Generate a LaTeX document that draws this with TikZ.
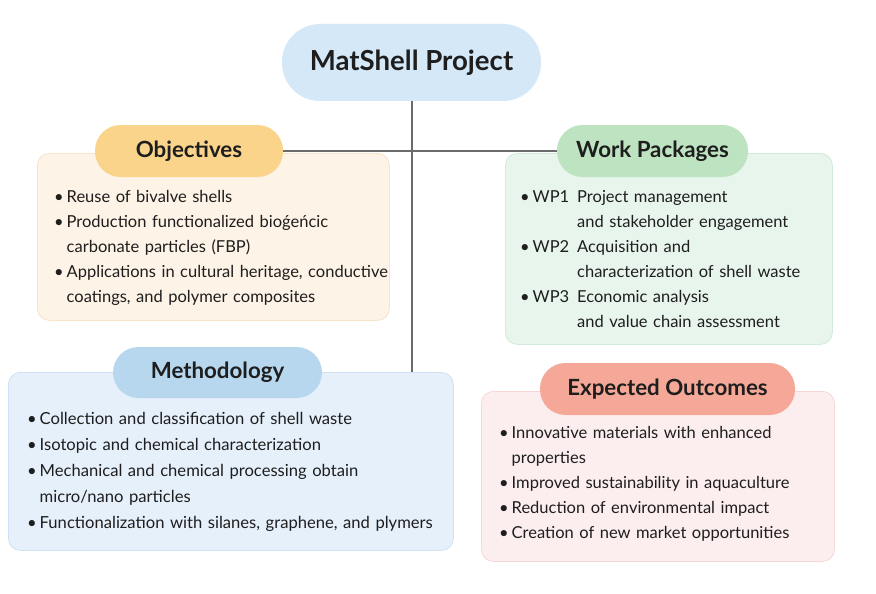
\documentclass[tikz,border=0pt]{standalone}
\usepackage{fontspec}
\setmainfont{Lato}
\usepackage{tikz}
\usetikzlibrary{positioning}

\definecolor{ink}{HTML}{1E1E1E}
\definecolor{linkgray}{HTML}{6B6B6B}
\definecolor{titlefill}{HTML}{D5E8F8}
\definecolor{objpill}{HTML}{FAD48B}
\definecolor{objfill}{HTML}{FDF3E6}
\definecolor{objline}{HTML}{F7E4CB}
\definecolor{wppill}{HTML}{BEE3C0}
\definecolor{wpfill}{HTML}{E8F5EC}
\definecolor{wpline}{HTML}{D2EADA}
\definecolor{methpill}{HTML}{B7D7EF}
\definecolor{methfill}{HTML}{E5F0FA}
\definecolor{methline}{HTML}{CFE2F3}
\definecolor{outpill}{HTML}{F6A898}
\definecolor{outfill}{HTML}{FCEEEE}
\definecolor{outline}{HTML}{F5D8D5}

\newcommand{\bul}[1]{\par\hangindent=12.5pt\hangafter=1\noindent\makebox[12.5pt][l]{\textbullet}#1}
\newcommand{\wpbul}[2]{\par\hangindent=57pt\hangafter=1\noindent\makebox[12.5pt][l]{\textbullet}\makebox[44.5pt][l]{#1}#2}

\tikzset{
  pill/.style={rounded corners=25.5pt, minimum height=52pt, inner sep=0pt, text=ink,
    font=\bfseries\fontsize{22.3}{26}\selectfont},
  panel/.style={rounded corners=12pt, anchor=north west, inner sep=0pt, line width=0.8pt},
  list/.style={anchor=north west, align=left, inner sep=0pt, text=ink, text width=#1,
    font=\fontsize{16.5}{25}\selectfont},
  link/.style={draw=linkgray, line width=2pt},
}

\begin{document}
\begin{tikzpicture}[x=1pt, y=-1pt]
\useasboundingbox[fill=white] (0,0) rectangle (876,594);

% panels
\node[panel, draw=objline, fill=objfill, minimum width=352pt, minimum height=167pt] (objbox) at (37,153) {};
\node[panel, draw=wpline, fill=wpfill, minimum width=327pt, minimum height=191pt] (wpbox) at (505,153) {};
\node[panel, draw=methline, fill=methfill, minimum width=445pt, minimum height=178pt] (methbox) at (8,372) {};
\node[panel, draw=outline, fill=outfill, minimum width=353pt, minimum height=170pt] (outbox) at (481,391) {};

% title and headings
\node[pill, fill=titlefill, minimum width=259pt, minimum height=77pt, rounded corners=38pt,
  font=\bfseries\fontsize{27.6}{32}\selectfont] (title) at (411.5,62.5) {MatShell Project};
\node[pill, fill=objpill, minimum width=188pt] (obj) at (189,151) {Objectives};
\node[pill, fill=wppill, minimum width=191pt] (wp) at (652.5,151) {Work Packages};
\node[pill, fill=methpill, minimum width=209pt, minimum height=51pt] (meth) at (217.5,372.5) {Methodology};
\node[pill, fill=outpill, minimum width=255pt] (out) at (667.5,389) {Expected Outcomes};

% connectors
\draw[link] (title.south) -- (title.south |- methbox.north);
\draw[link] (obj.east) -- (wp.west);

% lists
\node[list=340pt] (objlist) at (54,177.5) {%
  \bul{Reuse of bivalve shells}
  \bul{Production functionalized bioǵeńcic\newline carbonate particles (FBP)}
  \bul{Applications in cultural heritage, conductive\newline coatings, and polymer composites}\par};
\node[list=320pt] (wplist) at (520,177.5) {%
  \wpbul{WP1}{Project management\newline and stakeholder engagement}
  \wpbul{WP2}{Acquisition and\newline characterization of shell waste}
  \wpbul{WP3}{Economic analysis\newline and value chain assessment}\par};
\node[list=440pt, font=\fontsize{16.6}{26}\selectfont] (methlist) at (27,398) {%
  \bul{Collection and classification of shell waste}
  \bul{Isotopic and chemical characterization}
  \bul{Mechanical and chemical processing obtain\newline micro/nano particles}
  \bul{Functionalization with silanes, graphene, and plymers}\par};
\node[list=345pt] (outlist) at (499,413.5) {%
  \bul{Innovative materials with enhanced\newline properties}
  \bul{Improved sustainability in aquaculture}
  \bul{Reduction of environmental impact}
  \bul{Creation of new market opportunities}\par};
\end{tikzpicture}
\end{document}
